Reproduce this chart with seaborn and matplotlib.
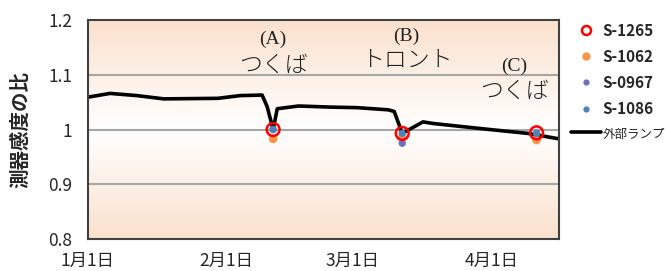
import numpy as np
import pandas as pd
import matplotlib
matplotlib.use("Agg")
import matplotlib.pyplot as plt
from matplotlib.colors import LinearSegmentedColormap
from matplotlib.lines import Line2D
import seaborn as sns

# External lamp sensitivity ratio
lamp_dates = ["2018-01-01 00:00", "2018-01-06 00:00", "2018-01-12 00:00", "2018-01-18 00:00",
              "2018-01-30 00:00", "2018-02-04 00:00", "2018-02-08 21:00", "2018-02-10 00:00",
              "2018-02-11 08:00", "2018-02-12 06:00", "2018-02-17 00:00", "2018-02-24 00:00",
              "2018-03-02 00:00", "2018-03-09 00:00", "2018-03-10 07:00", "2018-03-12 02:00",
              "2018-03-16 17:00", "2018-03-19 00:00", "2018-03-27 00:00", "2018-04-03 00:00",
              "2018-04-09 00:00", "2018-04-16 00:00"]
lamp_ratio = [1.059, 1.066, 1.062, 1.056,
              1.057, 1.062, 1.063, 1.042,
              1.000, 1.038, 1.043, 1.041,
              1.040, 1.036, 1.033, 0.993,
              1.014, 1.011, 1.004, 0.998,
              0.993, 0.983]

# Comparisons (A) Tsukuba, (B) Toronto, (C) Tsukuba
cmp_dates = ["2018-02-11 08:00", "2018-03-12 02:00", "2018-04-11 00:00"]
s1265 = [1.000, 0.993, 0.994]
s1062 = [0.983, 0.985, 0.981]
s0967 = [1.000, 0.975, 0.993]
s1086 = [1.000, 0.993, 0.993]

site_labels = ["(A)", "(B)", "(C)"]
site_names = ["つくば", "トロント", "つくば"]

tick_dates = ["2018-01-01", "2018-02-01", "2018-03-01", "2018-04-01"]
tick_labels = ["1月1日", "2月1日", "3月1日", "4月1日"]
y_ticks = [0.8, 0.9, 1.0, 1.1, 1.2]
y_labels = ["0.8", "0.9", "1", "1.1", "1.2"]

sns.set_theme(style="white")
plt.rcParams["font.family"] = ["Noto Sans CJK JP", "DejaVu Sans"]

lamp = pd.DataFrame({"date": pd.to_datetime(lamp_dates, format="%Y-%m-%d %H:%M"),
                     "ratio": lamp_ratio})
cmp_dt = pd.to_datetime(cmp_dates, format="%Y-%m-%d %H:%M")

fig = plt.figure(figsize=(6.66, 2.71), dpi=100)
ax = fig.add_axes([0.1314, 0.118, 0.708, 0.808])

# peach -> white -> peach background
cmap = LinearSegmentedColormap.from_list("bg", ["#fbe1cd", "#ffffff", "#fbe1cd"])
grad = np.linspace(0, 1, 256).reshape(-1, 1)
ax.imshow(grad, cmap=cmap, aspect="auto", extent=[0, 1, 0, 1],
          transform=ax.transAxes, zorder=0)

for y in [0.9, 1.0, 1.1]:
    ax.axhline(y, color="#a6a6a6", lw=1.5, zorder=1)

sns.lineplot(data=lamp, x="date", y="ratio", color="black", lw=2.6, ax=ax, zorder=3)

colors = {"S-1062": "#f79646", "S-0967": "#6a6fc0", "S-1086": "#4f81bd"}
sns.scatterplot(x=cmp_dt, y=s1062, color=colors["S-1062"], s=40, edgecolor="none", ax=ax, zorder=4)
sns.scatterplot(x=cmp_dt, y=s0967, color=colors["S-0967"], s=28, edgecolor="none", ax=ax, zorder=5)
sns.scatterplot(x=cmp_dt, y=s1086, color=colors["S-1086"], s=28, edgecolor="none", ax=ax, zorder=6)
sns.scatterplot(x=cmp_dt, y=s1265, facecolor="none", edgecolor="#ff0000", linewidth=1.8,
                s=85, ax=ax, zorder=7)

# site annotations (horizontal shift in points from the comparison date)
label_y = [1.164, 1.170, 1.116]
name_y = [1.118, 1.127, 1.070]
shift = [0, 3, -16]
for d, lab, name, ly, ny, dx in zip(cmp_dt, site_labels, site_names, label_y, name_y, shift):
    ax.annotate(lab, (d, ly), xytext=(dx, 0), textcoords="offset points",
                ha="center", va="center", fontsize=14,
                family="Liberation Serif", color="#222222", zorder=8)
    ax.annotate(name, (d, ny), xytext=(dx, 0), textcoords="offset points",
                ha="center", va="center", fontsize=16.5, fontweight="light",
                color="#222222", zorder=8)

ax.set_xlim(pd.Timestamp("2018-01-01"), pd.Timestamp("2018-04-16"))
ax.set_ylim(0.8, 1.2)
ax.set_xticks(pd.to_datetime(tick_dates))
ax.set_xticklabels(tick_labels, fontsize=12.5)
ax.set_yticks(y_ticks)
ax.set_yticklabels(y_labels, fontsize=12.5)
ax.tick_params(axis="x", direction="in", length=4, width=1, color="#808080", pad=9)
ax.tick_params(axis="y", length=0, pad=11)
ax.set_xlabel("")
ax.set_ylabel("測器感度の比", fontsize=14, fontweight="bold", labelpad=13)
for sp in ax.spines.values():
    sp.set_color("#404040")
    sp.set_linewidth(1.5)
    sp.set_zorder(9)

handles = [
    Line2D([], [], ls="none", marker="o", ms=6.5, mfc="none", mec="#ff0000", mew=1.8),
    Line2D([], [], ls="none", marker="o", ms=6, mfc=colors["S-1062"], mec="none"),
    Line2D([], [], ls="none", marker="o", ms=4.5, mfc=colors["S-0967"], mec="none"),
    Line2D([], [], ls="none", marker="o", ms=4.5, mfc=colors["S-1086"], mec="none"),
    Line2D([], [], color="black", lw=2.6),
]
labels = ["S-1265", "S-1062", "S-0967", "S-1086", "外部ランプ"]
leg = ax.legend(handles, labels, loc="upper left", bbox_to_anchor=(1.018, 1.002),
                frameon=False, fontsize=11, handlelength=2.0, handletextpad=0.1,
                labelspacing=0.66, borderaxespad=0, borderpad=0.2)
for t in leg.get_texts()[:4]:
    t.set_fontweight("bold")
leg.get_texts()[4].set_fontsize(9)

fig.savefig("out.png", dpi=100)
